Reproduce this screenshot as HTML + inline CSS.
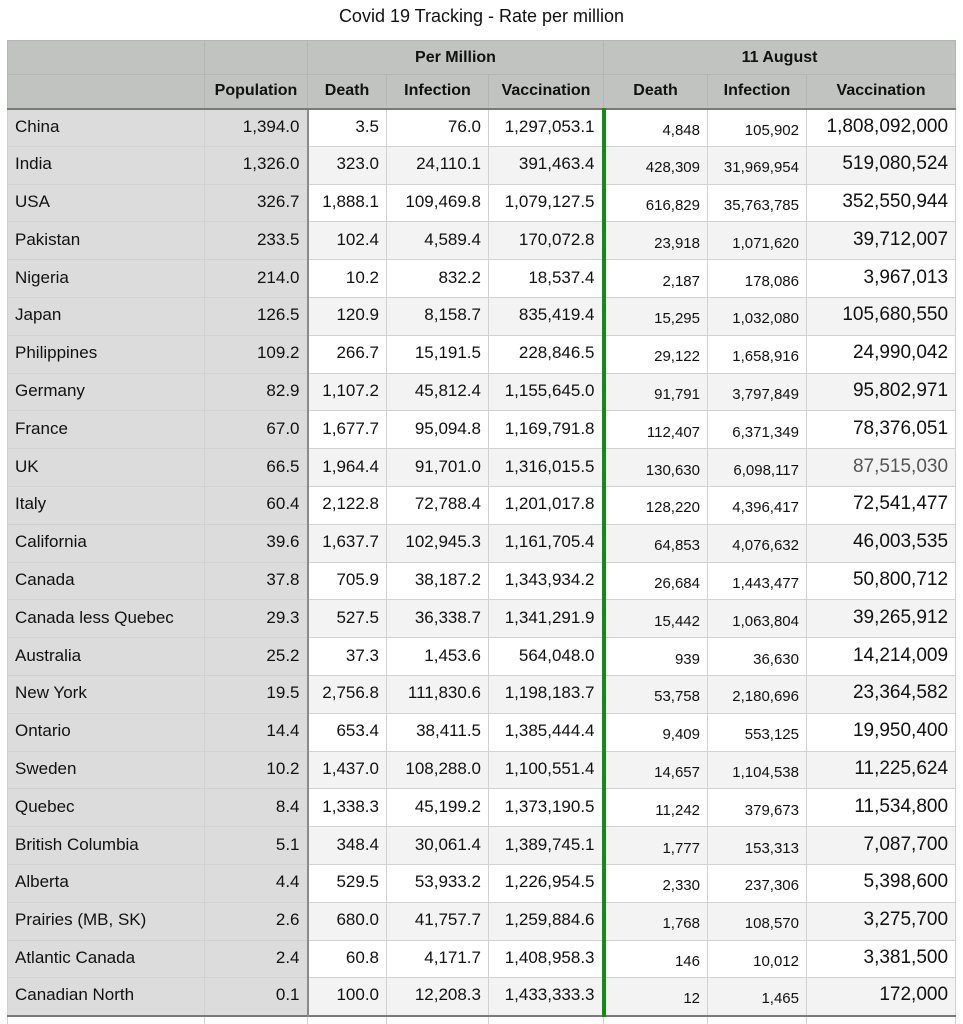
<!DOCTYPE html>
<html><head><meta charset="utf-8"><style>
html,body{margin:0;padding:0;background:#fff;width:963px;height:1024px;overflow:hidden}
body{font-family:"Liberation Sans",Arial,sans-serif;color:#111;position:relative}
.title{position:absolute;top:6px;left:0;width:963px;text-align:center;font-size:18px}
table{position:absolute;left:7px;top:40px;border-collapse:collapse;table-layout:fixed;width:948px}
td{border:1px solid #d2d2d2;padding:0 7px;font-size:17px;line-height:18px;white-space:nowrap;overflow:hidden;text-align:right;box-sizing:border-box;vertical-align:middle}
tr.h td{background:#c1c3c1;font-weight:bold;text-align:center;font-size:16px;height:34px;border-color:#b4b6b4}
tr.h2 td{border-bottom:2px solid #7a7a7a}
tr.d td{height:37.8px;padding-bottom:2px}
td.n{text-align:left;background:#dcdcdc;padding-left:7px}
td.p{background:#dcdcdc;border-right:2px solid #8a8a8a}
tr.d:nth-of-type(even) td.v{background:#f3f3f3}
td.g{border-right:4px solid #158a15}
tr.d td.s{font-size:15px;padding-top:6px;padding-bottom:0}
td.b{font-size:19px}
tr.e td{height:8px;border-top:2px solid #7a7a7a;border-bottom:none;background:#fff}
</style></head><body>
<div class="title">Covid 19 Tracking - Rate per million</div>
<table>
<colgroup><col style="width:197px"><col style="width:103px"><col style="width:79px"><col style="width:102px"><col style="width:115px"><col style="width:104px"><col style="width:99px"><col style="width:149px"></colgroup>
<tr class="h"><td></td><td></td><td colspan="3">Per Million</td><td colspan="3">11 August</td></tr>
<tr class="h h2"><td></td><td>Population</td><td>Death</td><td>Infection</td><td>Vaccination</td><td>Death</td><td>Infection</td><td>Vaccination</td></tr>
<tr class="d"><td class="n">China</td><td class="p">1,394.0</td><td class="v">3.5</td><td class="v">76.0</td><td class="v g">1,297,053.1</td><td class="v s">4,848</td><td class="v s">105,902</td><td class="v b">1,808,092,000</td></tr>
<tr class="d"><td class="n">India</td><td class="p">1,326.0</td><td class="v">323.0</td><td class="v">24,110.1</td><td class="v g">391,463.4</td><td class="v s">428,309</td><td class="v s">31,969,954</td><td class="v b">519,080,524</td></tr>
<tr class="d"><td class="n">USA</td><td class="p">326.7</td><td class="v">1,888.1</td><td class="v">109,469.8</td><td class="v g">1,079,127.5</td><td class="v s">616,829</td><td class="v s">35,763,785</td><td class="v b">352,550,944</td></tr>
<tr class="d"><td class="n">Pakistan</td><td class="p">233.5</td><td class="v">102.4</td><td class="v">4,589.4</td><td class="v g">170,072.8</td><td class="v s">23,918</td><td class="v s">1,071,620</td><td class="v b">39,712,007</td></tr>
<tr class="d"><td class="n">Nigeria</td><td class="p">214.0</td><td class="v">10.2</td><td class="v">832.2</td><td class="v g">18,537.4</td><td class="v s">2,187</td><td class="v s">178,086</td><td class="v b">3,967,013</td></tr>
<tr class="d"><td class="n">Japan</td><td class="p">126.5</td><td class="v">120.9</td><td class="v">8,158.7</td><td class="v g">835,419.4</td><td class="v s">15,295</td><td class="v s">1,032,080</td><td class="v b">105,680,550</td></tr>
<tr class="d"><td class="n">Philippines</td><td class="p">109.2</td><td class="v">266.7</td><td class="v">15,191.5</td><td class="v g">228,846.5</td><td class="v s">29,122</td><td class="v s">1,658,916</td><td class="v b">24,990,042</td></tr>
<tr class="d"><td class="n">Germany</td><td class="p">82.9</td><td class="v">1,107.2</td><td class="v">45,812.4</td><td class="v g">1,155,645.0</td><td class="v s">91,791</td><td class="v s">3,797,849</td><td class="v b">95,802,971</td></tr>
<tr class="d"><td class="n">France</td><td class="p">67.0</td><td class="v">1,677.7</td><td class="v">95,094.8</td><td class="v g">1,169,791.8</td><td class="v s">112,407</td><td class="v s">6,371,349</td><td class="v b">78,376,051</td></tr>
<tr class="d"><td class="n">UK</td><td class="p">66.5</td><td class="v">1,964.4</td><td class="v">91,701.0</td><td class="v g">1,316,015.5</td><td class="v s">130,630</td><td class="v s">6,098,117</td><td class="v b" style="color:#555">87,515,030</td></tr>
<tr class="d"><td class="n">Italy</td><td class="p">60.4</td><td class="v">2,122.8</td><td class="v">72,788.4</td><td class="v g">1,201,017.8</td><td class="v s">128,220</td><td class="v s">4,396,417</td><td class="v b">72,541,477</td></tr>
<tr class="d"><td class="n">California</td><td class="p">39.6</td><td class="v">1,637.7</td><td class="v">102,945.3</td><td class="v g">1,161,705.4</td><td class="v s">64,853</td><td class="v s">4,076,632</td><td class="v b">46,003,535</td></tr>
<tr class="d"><td class="n">Canada</td><td class="p">37.8</td><td class="v">705.9</td><td class="v">38,187.2</td><td class="v g">1,343,934.2</td><td class="v s">26,684</td><td class="v s">1,443,477</td><td class="v b">50,800,712</td></tr>
<tr class="d"><td class="n">Canada less Quebec</td><td class="p">29.3</td><td class="v">527.5</td><td class="v">36,338.7</td><td class="v g">1,341,291.9</td><td class="v s">15,442</td><td class="v s">1,063,804</td><td class="v b">39,265,912</td></tr>
<tr class="d"><td class="n">Australia</td><td class="p">25.2</td><td class="v">37.3</td><td class="v">1,453.6</td><td class="v g">564,048.0</td><td class="v s">939</td><td class="v s">36,630</td><td class="v b">14,214,009</td></tr>
<tr class="d"><td class="n">New York</td><td class="p">19.5</td><td class="v">2,756.8</td><td class="v">111,830.6</td><td class="v g">1,198,183.7</td><td class="v s">53,758</td><td class="v s">2,180,696</td><td class="v b">23,364,582</td></tr>
<tr class="d"><td class="n">Ontario</td><td class="p">14.4</td><td class="v">653.4</td><td class="v">38,411.5</td><td class="v g">1,385,444.4</td><td class="v s">9,409</td><td class="v s">553,125</td><td class="v b">19,950,400</td></tr>
<tr class="d"><td class="n">Sweden</td><td class="p">10.2</td><td class="v">1,437.0</td><td class="v">108,288.0</td><td class="v g">1,100,551.4</td><td class="v s">14,657</td><td class="v s">1,104,538</td><td class="v b">11,225,624</td></tr>
<tr class="d"><td class="n">Quebec</td><td class="p">8.4</td><td class="v">1,338.3</td><td class="v">45,199.2</td><td class="v g">1,373,190.5</td><td class="v s">11,242</td><td class="v s">379,673</td><td class="v b">11,534,800</td></tr>
<tr class="d"><td class="n">British Columbia</td><td class="p">5.1</td><td class="v">348.4</td><td class="v">30,061.4</td><td class="v g">1,389,745.1</td><td class="v s">1,777</td><td class="v s">153,313</td><td class="v b">7,087,700</td></tr>
<tr class="d"><td class="n">Alberta</td><td class="p">4.4</td><td class="v">529.5</td><td class="v">53,933.2</td><td class="v g">1,226,954.5</td><td class="v s">2,330</td><td class="v s">237,306</td><td class="v b">5,398,600</td></tr>
<tr class="d"><td class="n">Prairies (MB, SK)</td><td class="p">2.6</td><td class="v">680.0</td><td class="v">41,757.7</td><td class="v g">1,259,884.6</td><td class="v s">1,768</td><td class="v s">108,570</td><td class="v b">3,275,700</td></tr>
<tr class="d"><td class="n">Atlantic Canada</td><td class="p">2.4</td><td class="v">60.8</td><td class="v">4,171.7</td><td class="v g">1,408,958.3</td><td class="v s">146</td><td class="v s">10,012</td><td class="v b">3,381,500</td></tr>
<tr class="d"><td class="n">Canadian North</td><td class="p">0.1</td><td class="v">100.0</td><td class="v">12,208.3</td><td class="v g">1,433,333.3</td><td class="v s">12</td><td class="v s">1,465</td><td class="v b">172,000</td></tr>
<tr class="e"><td></td><td></td><td></td><td></td><td></td><td></td><td></td><td></td></tr>
</table>
</body></html>
